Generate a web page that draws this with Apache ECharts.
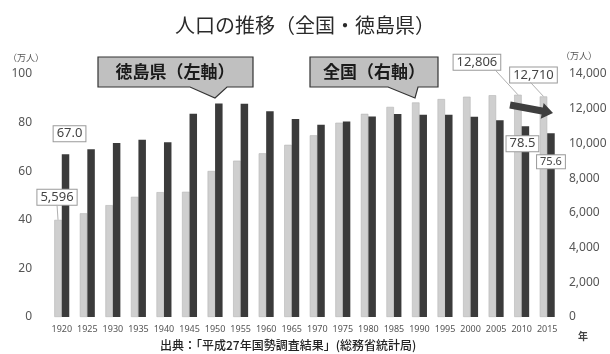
<!DOCTYPE html>
<html><head><meta charset="utf-8">
<script src="https://cdn.jsdelivr.net/npm/echarts@6/dist/echarts.min.js"></script>
<style>html,body{margin:0;padding:0;background:#fff}#c{width:610px;height:354px}</style>
</head><body><div id="c"></div>
<script>
const years = ['1920','1925','1930','1935','1940','1945','1950','1955','1960','1965','1970','1975','1980','1985','1990','1995','2000','2005','2010','2015'];
const national = [5596,5974,6445,6925,7193,7215,8412,9008,9430,9921,10467,11194,11706,12105,12361,12557,12693,12777,12806,12710];
const tokushima = [67.0,69.0,71.6,72.9,71.9,83.6,87.9,87.8,84.7,81.5,79.1,80.5,82.5,83.5,83.2,83.2,82.4,81.0,78.5,75.6];
const leftTicks = [0,20,40,60,80,100];
const rightTicks = [0,2000,4000,6000,8000,10000,12000,14000];
const labeledNational = [0,18,19];
const labeledTokushima = [0,18,19];

const FONT = '"Noto Sans CJK JP","Noto Sans",sans-serif';
const NUMFONT = '"Noto Sans","Liberation Sans",sans-serif';

const offsets = {
  '0-0':[-1,-10], '0-18':[-41,-20], '0-19':[-10,-9],
  '1-0':[4,-8], '1-18':[-3,30], '1-19':[0,40]
};
// leader line end offsets relative to label centre (x) and bottom edge
const leaderEnds = {0:[0], 18:[18], 19:[-3]};
const boxLabel = (size) => ({
  show:true, position:'top', distance:5,
  fontFamily:NUMFONT, fontSize:size, color:'#444',
  backgroundColor:'#fff', borderColor:'#9a9a9a', borderWidth:1, padding:[1,3]
});

const natData = national.map((v,i)=> labeledNational.includes(i)
  ? {value:v, label:Object.assign(boxLabel(13),{formatter:(p)=>p.value.toLocaleString('en-US')})}
  : {value:v});
const tokData = tokushima.map((v,i)=> labeledTokushima.includes(i)
  ? {value:v, label:Object.assign(boxLabel(i===19?11:13),{formatter:(p)=>p.value.toFixed(1)})}
  : {value:v});

const chart = echarts.init(document.getElementById('c'), null, {renderer:'canvas'});

function arrowPts(x1,y1,x2,y2,body,headW,headL){
  const dx=x2-x1, dy=y2-y1, L=Math.hypot(dx,dy), ux=dx/L, uy=dy/L, nx=-uy, ny=ux;
  const bx=x2-ux*headL, by=y2-uy*headL;
  return [[x1+nx*body/2,y1+ny*body/2],[bx+nx*body/2,by+ny*body/2],[bx+nx*headW/2,by+ny*headW/2],[x2,y2],
          [bx-nx*headW/2,by-ny*headW/2],[bx-nx*body/2,by-ny*body/2],[x1-nx*body/2,y1-ny*body/2]];
}

const baseGraphics = [
  {type:'text', left:8, top:53, style:{text:'（万人）', fontFamily:FONT, fontSize:9, fill:'#555'}},
  {type:'text', left:561, top:51, style:{text:'（万人）', fontFamily:FONT, fontSize:9, fill:'#555'}},
  {type:'text', left:578, top:331, style:{text:'年', fontFamily:FONT, fontSize:10, fontWeight:'bold', fill:'#444'}},
  {type:'text', left:160, top:339, style:{text:'出典：「平成27年国勢調査結果」(総務省統計局)', fontFamily:FONT, fontSize:12, fontWeight:500, fill:'#222'}},
  {type:'polygon', shape:{points:[[98,57],[253,57],[253,87],[227,87],[215,98],[190,87],[98,87]]},
   style:{fill:'#c0c0c0', stroke:'#333', lineWidth:1.2}, z:10},
  {type:'text', x:175, y:72, style:{text:'徳島県（左軸）', fontFamily:FONT, fontSize:17, fontWeight:'bold', fill:'#1a1a1a', align:'center', verticalAlign:'middle'}, z:11},
  {type:'polygon', shape:{points:[[310,57],[438,57],[438,87],[418,87],[415,98],[388,87],[310,87]]},
   style:{fill:'#c0c0c0', stroke:'#333', lineWidth:1.2}, z:10},
  {type:'text', x:374, y:72, style:{text:'全国（右軸）', fontFamily:FONT, fontSize:17, fontWeight:'bold', fill:'#1a1a1a', align:'center', verticalAlign:'middle'}, z:11},
  {type:'polygon', shape:{points:arrowPts(510,105,553,113,7,16,11)}, style:{fill:'#3e3e3e'}, z:10}
];

chart.setOption({
  animation:false,
  backgroundColor:'#fff',
  title:{text:'人口の推移（全国・徳島県）', left:'center', top:10,
    textStyle:{fontFamily:FONT, fontSize:20, fontWeight:'normal', color:'#2a2a2a'}},
  grid:{left:49, right:50, top:74, bottom:37},
  xAxis:{type:'category', data:years,
    axisLine:{show:false}, axisTick:{show:false},
    axisLabel:{interval:0, fontFamily:NUMFONT, fontSize:9, color:'#555', margin:8}},
  yAxis:[
    {type:'value', min:0, max:100, interval:20, position:'left',
     splitLine:{show:false}, axisLine:{show:false}, axisTick:{show:false},
     axisLabel:{fontFamily:NUMFONT, fontSize:12, color:'#555', margin:17}},
    {type:'value', min:0, max:14000, interval:2000, position:'right',
     splitLine:{show:false}, axisLine:{show:false}, axisTick:{show:false},
     axisLabel:{fontFamily:NUMFONT, fontSize:12, color:'#555', margin:9,
       formatter:(v)=>v.toLocaleString('en-US')}}
  ],
  series:[
    {name:'全国', type:'bar', yAxisIndex:1, data:natData, barWidth:7.5, barGap:'0%',
     itemStyle:{color:'#cfcfcf', borderColor:'#b5b5b5', borderWidth:0.6},
     labelLayout:(p)=>{const o=offsets['0-'+p.dataIndex]; return o?{dx:o[0],dy:o[1]}:{};}},
    {name:'徳島県', type:'bar', yAxisIndex:0, data:tokData, barWidth:7.5, barGap:'0%',
     itemStyle:{color:'#3b3b3b'},
     labelLayout:(p)=>{const o=offsets['1-'+p.dataIndex]; return o?{dx:o[0],dy:o[1]}:{};}}
  ],
  graphic: baseGraphics
});

// leader lines from national labels to bar tops, positioned through the axes
const cw = chart.getModel().getComponent('xAxis',0).axis.getBandWidth();
const leaders = labeledNational.map(i=>{
  const top = chart.convertToPixel({xAxisIndex:0, yAxisIndex:1},[i, national[i]]);
  const bx = top[0] - 3.75, by = top[1];
  const o = offsets['0-'+i];
  const cx = bx + o[0], bottom = by - 5 + o[1];
  return {type:'line', shape:{x1:cx + leaderEnds[i][0], y1:bottom, x2:bx, y2:by},
    style:{stroke:'#b0b0b0', lineWidth:1}, z:5};
});
chart.setOption({graphic: baseGraphics.concat(leaders)});
</script></body></html>
